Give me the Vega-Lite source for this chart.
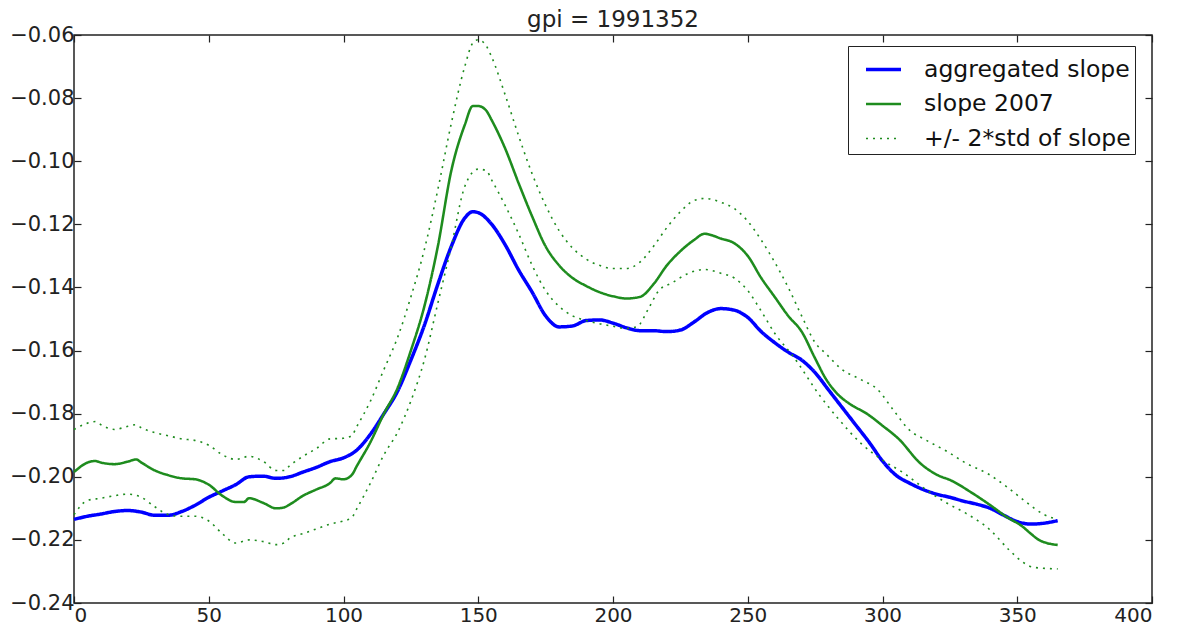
{
  "$schema": "https://vega.github.io/schema/vega-lite/v6.json",
  "width": 1078,
  "height": 568,
  "autosize": {"type": "none"},
  "padding": {"left": 74, "top": 35, "right": 26, "bottom": 24},
  "background": "white",
  "title": {"text": "gpi = 1991352", "fontSize": 23, "font": "DejaVu Sans", "fontWeight": "normal", "color": "#222222", "offset": -8},
  "config": {
    "view": {"stroke": "#222222", "strokeWidth": 1.5},
    "axis": {"labelFont": "DejaVu Sans", "labelFontSize": 21, "labelColor": "#222222", "tickColor": "#222222", "domain": false, "grid": false, "tickSize": -7, "tickWidth": 1.2, "title": null}
  },
  "data": {"values": [
    {"day":0,"slope":-0.2135,"series":"aggregated slope","line":"a"},{"day":5,"slope":-0.2125,"series":"aggregated slope","line":"a"},{"day":10,"slope":-0.2118,"series":"aggregated slope","line":"a"},{"day":15,"slope":-0.2110,"series":"aggregated slope","line":"a"},{"day":20,"slope":-0.2107,"series":"aggregated slope","line":"a"},{"day":25,"slope":-0.2112,"series":"aggregated slope","line":"a"},{"day":30,"slope":-0.2122,"series":"aggregated slope","line":"a"},{"day":35,"slope":-0.2122,"series":"aggregated slope","line":"a"},{"day":40,"slope":-0.2110,"series":"aggregated slope","line":"a"},{"day":45,"slope":-0.2090,"series":"aggregated slope","line":"a"},{"day":50,"slope":-0.2065,"series":"aggregated slope","line":"a"},{"day":55,"slope":-0.2045,"series":"aggregated slope","line":"a"},{"day":60,"slope":-0.2025,"series":"aggregated slope","line":"a"},{"day":65,"slope":-0.2000,"series":"aggregated slope","line":"a"},{"day":70,"slope":-0.1998,"series":"aggregated slope","line":"a"},{"day":75,"slope":-0.2005,"series":"aggregated slope","line":"a"},{"day":80,"slope":-0.2000,"series":"aggregated slope","line":"a"},{"day":85,"slope":-0.1985,"series":"aggregated slope","line":"a"},{"day":90,"slope":-0.1970,"series":"aggregated slope","line":"a"},{"day":95,"slope":-0.1952,"series":"aggregated slope","line":"a"},{"day":100,"slope":-0.1940,"series":"aggregated slope","line":"a"},{"day":105,"slope":-0.1915,"series":"aggregated slope","line":"a"},{"day":110,"slope":-0.1865,"series":"aggregated slope","line":"a"},{"day":115,"slope":-0.1800,"series":"aggregated slope","line":"a"},{"day":120,"slope":-0.1730,"series":"aggregated slope","line":"a"},{"day":125,"slope":-0.1630,"series":"aggregated slope","line":"a"},{"day":130,"slope":-0.1520,"series":"aggregated slope","line":"a"},{"day":135,"slope":-0.1390,"series":"aggregated slope","line":"a"},{"day":140,"slope":-0.1270,"series":"aggregated slope","line":"a"},{"day":145,"slope":-0.1180,"series":"aggregated slope","line":"a"},{"day":148,"slope":-0.1160,"series":"aggregated slope","line":"a"},{"day":150,"slope":-0.1163,"series":"aggregated slope","line":"a"},{"day":155,"slope":-0.1200,"series":"aggregated slope","line":"a"},{"day":160,"slope":-0.1265,"series":"aggregated slope","line":"a"},{"day":165,"slope":-0.1345,"series":"aggregated slope","line":"a"},{"day":170,"slope":-0.1415,"series":"aggregated slope","line":"a"},{"day":175,"slope":-0.1490,"series":"aggregated slope","line":"a"},{"day":180,"slope":-0.1525,"series":"aggregated slope","line":"a"},{"day":185,"slope":-0.1522,"series":"aggregated slope","line":"a"},{"day":190,"slope":-0.1505,"series":"aggregated slope","line":"a"},{"day":195,"slope":-0.1503,"series":"aggregated slope","line":"a"},{"day":200,"slope":-0.1513,"series":"aggregated slope","line":"a"},{"day":205,"slope":-0.1528,"series":"aggregated slope","line":"a"},{"day":210,"slope":-0.1537,"series":"aggregated slope","line":"a"},{"day":215,"slope":-0.1537,"series":"aggregated slope","line":"a"},{"day":220,"slope":-0.1540,"series":"aggregated slope","line":"a"},{"day":225,"slope":-0.1535,"series":"aggregated slope","line":"a"},{"day":230,"slope":-0.1510,"series":"aggregated slope","line":"a"},{"day":235,"slope":-0.1480,"series":"aggregated slope","line":"a"},{"day":240,"slope":-0.1467,"series":"aggregated slope","line":"a"},{"day":245,"slope":-0.1472,"series":"aggregated slope","line":"a"},{"day":250,"slope":-0.1495,"series":"aggregated slope","line":"a"},{"day":255,"slope":-0.1540,"series":"aggregated slope","line":"a"},{"day":260,"slope":-0.1575,"series":"aggregated slope","line":"a"},{"day":265,"slope":-0.1605,"series":"aggregated slope","line":"a"},{"day":270,"slope":-0.1630,"series":"aggregated slope","line":"a"},{"day":275,"slope":-0.1670,"series":"aggregated slope","line":"a"},{"day":280,"slope":-0.1725,"series":"aggregated slope","line":"a"},{"day":285,"slope":-0.1780,"series":"aggregated slope","line":"a"},{"day":290,"slope":-0.1835,"series":"aggregated slope","line":"a"},{"day":295,"slope":-0.1890,"series":"aggregated slope","line":"a"},{"day":300,"slope":-0.1950,"series":"aggregated slope","line":"a"},{"day":305,"slope":-0.1995,"series":"aggregated slope","line":"a"},{"day":310,"slope":-0.2020,"series":"aggregated slope","line":"a"},{"day":315,"slope":-0.2040,"series":"aggregated slope","line":"a"},{"day":320,"slope":-0.2055,"series":"aggregated slope","line":"a"},{"day":325,"slope":-0.2065,"series":"aggregated slope","line":"a"},{"day":330,"slope":-0.2077,"series":"aggregated slope","line":"a"},{"day":335,"slope":-0.2087,"series":"aggregated slope","line":"a"},{"day":340,"slope":-0.2100,"series":"aggregated slope","line":"a"},{"day":345,"slope":-0.2122,"series":"aggregated slope","line":"a"},{"day":350,"slope":-0.2142,"series":"aggregated slope","line":"a"},{"day":355,"slope":-0.2150,"series":"aggregated slope","line":"a"},{"day":360,"slope":-0.2147,"series":"aggregated slope","line":"a"},{"day":365,"slope":-0.2139,"series":"aggregated slope","line":"a"},

    {"day":0,"slope":-0.1985,"series":"slope 2007","line":"b"},{"day":5,"slope":-0.1955,"series":"slope 2007","line":"b"},{"day":8,"slope":-0.1950,"series":"slope 2007","line":"b"},{"day":10,"slope":-0.1955,"series":"slope 2007","line":"b"},{"day":15,"slope":-0.1960,"series":"slope 2007","line":"b"},{"day":20,"slope":-0.1952,"series":"slope 2007","line":"b"},{"day":23,"slope":-0.1945,"series":"slope 2007","line":"b"},{"day":25,"slope":-0.1955,"series":"slope 2007","line":"b"},{"day":30,"slope":-0.1980,"series":"slope 2007","line":"b"},{"day":35,"slope":-0.1995,"series":"slope 2007","line":"b"},{"day":40,"slope":-0.2005,"series":"slope 2007","line":"b"},{"day":45,"slope":-0.2008,"series":"slope 2007","line":"b"},{"day":50,"slope":-0.2025,"series":"slope 2007","line":"b"},{"day":55,"slope":-0.2060,"series":"slope 2007","line":"b"},{"day":60,"slope":-0.2080,"series":"slope 2007","line":"b"},{"day":63,"slope":-0.2080,"series":"slope 2007","line":"b"},{"day":65,"slope":-0.2068,"series":"slope 2007","line":"b"},{"day":70,"slope":-0.2082,"series":"slope 2007","line":"b"},{"day":75,"slope":-0.2100,"series":"slope 2007","line":"b"},{"day":78,"slope":-0.2097,"series":"slope 2007","line":"b"},{"day":80,"slope":-0.2088,"series":"slope 2007","line":"b"},{"day":85,"slope":-0.2060,"series":"slope 2007","line":"b"},{"day":90,"slope":-0.2040,"series":"slope 2007","line":"b"},{"day":95,"slope":-0.2020,"series":"slope 2007","line":"b"},{"day":97,"slope":-0.2005,"series":"slope 2007","line":"b"},{"day":100,"slope":-0.2008,"series":"slope 2007","line":"b"},{"day":103,"slope":-0.1995,"series":"slope 2007","line":"b"},{"day":105,"slope":-0.1965,"series":"slope 2007","line":"b"},{"day":110,"slope":-0.1890,"series":"slope 2007","line":"b"},{"day":115,"slope":-0.1800,"series":"slope 2007","line":"b"},{"day":120,"slope":-0.1720,"series":"slope 2007","line":"b"},{"day":125,"slope":-0.1600,"series":"slope 2007","line":"b"},{"day":130,"slope":-0.1460,"series":"slope 2007","line":"b"},{"day":135,"slope":-0.1270,"series":"slope 2007","line":"b"},{"day":140,"slope":-0.1030,"series":"slope 2007","line":"b"},{"day":145,"slope":-0.0885,"series":"slope 2007","line":"b"},{"day":148,"slope":-0.0825,"series":"slope 2007","line":"b"},{"day":150,"slope":-0.0825,"series":"slope 2007","line":"b"},{"day":153,"slope":-0.0840,"series":"slope 2007","line":"b"},{"day":155,"slope":-0.0870,"series":"slope 2007","line":"b"},{"day":160,"slope":-0.0960,"series":"slope 2007","line":"b"},{"day":165,"slope":-0.1070,"series":"slope 2007","line":"b"},{"day":170,"slope":-0.1175,"series":"slope 2007","line":"b"},{"day":175,"slope":-0.1270,"series":"slope 2007","line":"b"},{"day":180,"slope":-0.1330,"series":"slope 2007","line":"b"},{"day":185,"slope":-0.1370,"series":"slope 2007","line":"b"},{"day":190,"slope":-0.1395,"series":"slope 2007","line":"b"},{"day":195,"slope":-0.1415,"series":"slope 2007","line":"b"},{"day":200,"slope":-0.1428,"series":"slope 2007","line":"b"},{"day":205,"slope":-0.1435,"series":"slope 2007","line":"b"},{"day":210,"slope":-0.1430,"series":"slope 2007","line":"b"},{"day":215,"slope":-0.1390,"series":"slope 2007","line":"b"},{"day":220,"slope":-0.1330,"series":"slope 2007","line":"b"},{"day":225,"slope":-0.1285,"series":"slope 2007","line":"b"},{"day":230,"slope":-0.1250,"series":"slope 2007","line":"b"},{"day":234,"slope":-0.1230,"series":"slope 2007","line":"b"},{"day":240,"slope":-0.1245,"series":"slope 2007","line":"b"},{"day":245,"slope":-0.1260,"series":"slope 2007","line":"b"},{"day":250,"slope":-0.1300,"series":"slope 2007","line":"b"},{"day":255,"slope":-0.1370,"series":"slope 2007","line":"b"},{"day":260,"slope":-0.1430,"series":"slope 2007","line":"b"},{"day":265,"slope":-0.1490,"series":"slope 2007","line":"b"},{"day":270,"slope":-0.1540,"series":"slope 2007","line":"b"},{"day":275,"slope":-0.1625,"series":"slope 2007","line":"b"},{"day":279,"slope":-0.1690,"series":"slope 2007","line":"b"},{"day":283,"slope":-0.1735,"series":"slope 2007","line":"b"},{"day":288,"slope":-0.1770,"series":"slope 2007","line":"b"},{"day":294,"slope":-0.1799,"series":"slope 2007","line":"b"},{"day":300,"slope":-0.1838,"series":"slope 2007","line":"b"},{"day":306,"slope":-0.1880,"series":"slope 2007","line":"b"},{"day":314,"slope":-0.1957,"series":"slope 2007","line":"b"},{"day":321,"slope":-0.1997,"series":"slope 2007","line":"b"},{"day":325,"slope":-0.2010,"series":"slope 2007","line":"b"},{"day":333,"slope":-0.2050,"series":"slope 2007","line":"b"},{"day":340,"slope":-0.2090,"series":"slope 2007","line":"b"},{"day":346,"slope":-0.2127,"series":"slope 2007","line":"b"},{"day":352,"slope":-0.2158,"series":"slope 2007","line":"b"},{"day":355,"slope":-0.2180,"series":"slope 2007","line":"b"},{"day":358,"slope":-0.2200,"series":"slope 2007","line":"b"},{"day":361,"slope":-0.2210,"series":"slope 2007","line":"b"},{"day":365,"slope":-0.2216,"series":"slope 2007","line":"b"},

    {"day":0,"slope":-0.1850,"series":"+/- 2*std of slope","line":"u"},{"day":5,"slope":-0.1830,"series":"+/- 2*std of slope","line":"u"},{"day":8,"slope":-0.1825,"series":"+/- 2*std of slope","line":"u"},{"day":10,"slope":-0.1835,"series":"+/- 2*std of slope","line":"u"},{"day":15,"slope":-0.1850,"series":"+/- 2*std of slope","line":"u"},{"day":20,"slope":-0.1840,"series":"+/- 2*std of slope","line":"u"},{"day":23,"slope":-0.1835,"series":"+/- 2*std of slope","line":"u"},{"day":25,"slope":-0.1845,"series":"+/- 2*std of slope","line":"u"},{"day":30,"slope":-0.1860,"series":"+/- 2*std of slope","line":"u"},{"day":35,"slope":-0.1870,"series":"+/- 2*std of slope","line":"u"},{"day":40,"slope":-0.1880,"series":"+/- 2*std of slope","line":"u"},{"day":45,"slope":-0.1885,"series":"+/- 2*std of slope","line":"u"},{"day":50,"slope":-0.1900,"series":"+/- 2*std of slope","line":"u"},{"day":55,"slope":-0.1930,"series":"+/- 2*std of slope","line":"u"},{"day":60,"slope":-0.1945,"series":"+/- 2*std of slope","line":"u"},{"day":65,"slope":-0.1935,"series":"+/- 2*std of slope","line":"u"},{"day":70,"slope":-0.1950,"series":"+/- 2*std of slope","line":"u"},{"day":75,"slope":-0.1980,"series":"+/- 2*std of slope","line":"u"},{"day":78,"slope":-0.1980,"series":"+/- 2*std of slope","line":"u"},{"day":80,"slope":-0.1965,"series":"+/- 2*std of slope","line":"u"},{"day":85,"slope":-0.1935,"series":"+/- 2*std of slope","line":"u"},{"day":90,"slope":-0.1910,"series":"+/- 2*std of slope","line":"u"},{"day":95,"slope":-0.1880,"series":"+/- 2*std of slope","line":"u"},{"day":100,"slope":-0.1878,"series":"+/- 2*std of slope","line":"u"},{"day":103,"slope":-0.1870,"series":"+/- 2*std of slope","line":"u"},{"day":105,"slope":-0.1840,"series":"+/- 2*std of slope","line":"u"},{"day":110,"slope":-0.1760,"series":"+/- 2*std of slope","line":"u"},{"day":115,"slope":-0.1660,"series":"+/- 2*std of slope","line":"u"},{"day":120,"slope":-0.1560,"series":"+/- 2*std of slope","line":"u"},{"day":125,"slope":-0.1430,"series":"+/- 2*std of slope","line":"u"},{"day":130,"slope":-0.1280,"series":"+/- 2*std of slope","line":"u"},{"day":135,"slope":-0.1090,"series":"+/- 2*std of slope","line":"u"},{"day":140,"slope":-0.0880,"series":"+/- 2*std of slope","line":"u"},{"day":145,"slope":-0.0700,"series":"+/- 2*std of slope","line":"u"},{"day":148,"slope":-0.0625,"series":"+/- 2*std of slope","line":"u"},{"day":150,"slope":-0.0615,"series":"+/- 2*std of slope","line":"u"},{"day":153,"slope":-0.0635,"series":"+/- 2*std of slope","line":"u"},{"day":155,"slope":-0.0670,"series":"+/- 2*std of slope","line":"u"},{"day":160,"slope":-0.0790,"series":"+/- 2*std of slope","line":"u"},{"day":165,"slope":-0.0920,"series":"+/- 2*std of slope","line":"u"},{"day":170,"slope":-0.1040,"series":"+/- 2*std of slope","line":"u"},{"day":175,"slope":-0.1140,"series":"+/- 2*std of slope","line":"u"},{"day":180,"slope":-0.1220,"series":"+/- 2*std of slope","line":"u"},{"day":185,"slope":-0.1275,"series":"+/- 2*std of slope","line":"u"},{"day":190,"slope":-0.1310,"series":"+/- 2*std of slope","line":"u"},{"day":195,"slope":-0.1330,"series":"+/- 2*std of slope","line":"u"},{"day":200,"slope":-0.1340,"series":"+/- 2*std of slope","line":"u"},{"day":205,"slope":-0.1340,"series":"+/- 2*std of slope","line":"u"},{"day":210,"slope":-0.1320,"series":"+/- 2*std of slope","line":"u"},{"day":215,"slope":-0.1270,"series":"+/- 2*std of slope","line":"u"},{"day":220,"slope":-0.1210,"series":"+/- 2*std of slope","line":"u"},{"day":225,"slope":-0.1160,"series":"+/- 2*std of slope","line":"u"},{"day":230,"slope":-0.1125,"series":"+/- 2*std of slope","line":"u"},{"day":234,"slope":-0.1118,"series":"+/- 2*std of slope","line":"u"},{"day":240,"slope":-0.1130,"series":"+/- 2*std of slope","line":"u"},{"day":245,"slope":-0.1150,"series":"+/- 2*std of slope","line":"u"},{"day":250,"slope":-0.1190,"series":"+/- 2*std of slope","line":"u"},{"day":255,"slope":-0.1250,"series":"+/- 2*std of slope","line":"u"},{"day":260,"slope":-0.1320,"series":"+/- 2*std of slope","line":"u"},{"day":265,"slope":-0.1400,"series":"+/- 2*std of slope","line":"u"},{"day":270,"slope":-0.1490,"series":"+/- 2*std of slope","line":"u"},{"day":275,"slope":-0.1575,"series":"+/- 2*std of slope","line":"u"},{"day":279,"slope":-0.1610,"series":"+/- 2*std of slope","line":"u"},{"day":285,"slope":-0.1660,"series":"+/- 2*std of slope","line":"u"},{"day":292,"slope":-0.1692,"series":"+/- 2*std of slope","line":"u"},{"day":298,"slope":-0.1722,"series":"+/- 2*std of slope","line":"u"},{"day":304,"slope":-0.1788,"series":"+/- 2*std of slope","line":"u"},{"day":310,"slope":-0.1852,"series":"+/- 2*std of slope","line":"u"},{"day":316,"slope":-0.1883,"series":"+/- 2*std of slope","line":"u"},{"day":324,"slope":-0.1920,"series":"+/- 2*std of slope","line":"u"},{"day":331,"slope":-0.1957,"series":"+/- 2*std of slope","line":"u"},{"day":339,"slope":-0.1990,"series":"+/- 2*std of slope","line":"u"},{"day":346,"slope":-0.2031,"series":"+/- 2*std of slope","line":"u"},{"day":353,"slope":-0.2078,"series":"+/- 2*std of slope","line":"u"},{"day":360,"slope":-0.2120,"series":"+/- 2*std of slope","line":"u"},{"day":365,"slope":-0.2135,"series":"+/- 2*std of slope","line":"u"},

    {"day":0,"slope":-0.2120,"series":"+/- 2*std of slope","line":"l"},{"day":5,"slope":-0.2075,"series":"+/- 2*std of slope","line":"l"},{"day":10,"slope":-0.2068,"series":"+/- 2*std of slope","line":"l"},{"day":15,"slope":-0.2060,"series":"+/- 2*std of slope","line":"l"},{"day":20,"slope":-0.2055,"series":"+/- 2*std of slope","line":"l"},{"day":25,"slope":-0.2065,"series":"+/- 2*std of slope","line":"l"},{"day":30,"slope":-0.2095,"series":"+/- 2*std of slope","line":"l"},{"day":35,"slope":-0.2120,"series":"+/- 2*std of slope","line":"l"},{"day":40,"slope":-0.2125,"series":"+/- 2*std of slope","line":"l"},{"day":45,"slope":-0.2125,"series":"+/- 2*std of slope","line":"l"},{"day":50,"slope":-0.2140,"series":"+/- 2*std of slope","line":"l"},{"day":55,"slope":-0.2180,"series":"+/- 2*std of slope","line":"l"},{"day":60,"slope":-0.2210,"series":"+/- 2*std of slope","line":"l"},{"day":65,"slope":-0.2200,"series":"+/- 2*std of slope","line":"l"},{"day":70,"slope":-0.2205,"series":"+/- 2*std of slope","line":"l"},{"day":75,"slope":-0.2215,"series":"+/- 2*std of slope","line":"l"},{"day":78,"slope":-0.2210,"series":"+/- 2*std of slope","line":"l"},{"day":80,"slope":-0.2195,"series":"+/- 2*std of slope","line":"l"},{"day":85,"slope":-0.2180,"series":"+/- 2*std of slope","line":"l"},{"day":90,"slope":-0.2165,"series":"+/- 2*std of slope","line":"l"},{"day":95,"slope":-0.2150,"series":"+/- 2*std of slope","line":"l"},{"day":100,"slope":-0.2140,"series":"+/- 2*std of slope","line":"l"},{"day":103,"slope":-0.2130,"series":"+/- 2*std of slope","line":"l"},{"day":105,"slope":-0.2100,"series":"+/- 2*std of slope","line":"l"},{"day":110,"slope":-0.2020,"series":"+/- 2*std of slope","line":"l"},{"day":115,"slope":-0.1930,"series":"+/- 2*std of slope","line":"l"},{"day":120,"slope":-0.1860,"series":"+/- 2*std of slope","line":"l"},{"day":125,"slope":-0.1760,"series":"+/- 2*std of slope","line":"l"},{"day":130,"slope":-0.1630,"series":"+/- 2*std of slope","line":"l"},{"day":135,"slope":-0.1450,"series":"+/- 2*std of slope","line":"l"},{"day":140,"slope":-0.1270,"series":"+/- 2*std of slope","line":"l"},{"day":145,"slope":-0.1080,"series":"+/- 2*std of slope","line":"l"},{"day":150,"slope":-0.1025,"series":"+/- 2*std of slope","line":"l"},{"day":153,"slope":-0.1030,"series":"+/- 2*std of slope","line":"l"},{"day":155,"slope":-0.1060,"series":"+/- 2*std of slope","line":"l"},{"day":160,"slope":-0.1140,"series":"+/- 2*std of slope","line":"l"},{"day":165,"slope":-0.1230,"series":"+/- 2*std of slope","line":"l"},{"day":170,"slope":-0.1330,"series":"+/- 2*std of slope","line":"l"},{"day":175,"slope":-0.1410,"series":"+/- 2*std of slope","line":"l"},{"day":180,"slope":-0.1460,"series":"+/- 2*std of slope","line":"l"},{"day":185,"slope":-0.1490,"series":"+/- 2*std of slope","line":"l"},{"day":190,"slope":-0.1505,"series":"+/- 2*std of slope","line":"l"},{"day":195,"slope":-0.1515,"series":"+/- 2*std of slope","line":"l"},{"day":200,"slope":-0.1523,"series":"+/- 2*std of slope","line":"l"},{"day":205,"slope":-0.1530,"series":"+/- 2*std of slope","line":"l"},{"day":209,"slope":-0.1524,"series":"+/- 2*std of slope","line":"l"},{"day":213,"slope":-0.1470,"series":"+/- 2*std of slope","line":"l"},{"day":217,"slope":-0.1410,"series":"+/- 2*std of slope","line":"l"},{"day":222,"slope":-0.1385,"series":"+/- 2*std of slope","line":"l"},{"day":228,"slope":-0.1355,"series":"+/- 2*std of slope","line":"l"},{"day":234,"slope":-0.1343,"series":"+/- 2*std of slope","line":"l"},{"day":240,"slope":-0.1355,"series":"+/- 2*std of slope","line":"l"},{"day":245,"slope":-0.1370,"series":"+/- 2*std of slope","line":"l"},{"day":250,"slope":-0.1410,"series":"+/- 2*std of slope","line":"l"},{"day":255,"slope":-0.1475,"series":"+/- 2*std of slope","line":"l"},{"day":260,"slope":-0.1545,"series":"+/- 2*std of slope","line":"l"},{"day":267,"slope":-0.1620,"series":"+/- 2*std of slope","line":"l"},{"day":277,"slope":-0.1746,"series":"+/- 2*std of slope","line":"l"},{"day":283,"slope":-0.1810,"series":"+/- 2*std of slope","line":"l"},{"day":292,"slope":-0.1894,"series":"+/- 2*std of slope","line":"l"},{"day":300,"slope":-0.1947,"series":"+/- 2*std of slope","line":"l"},{"day":308,"slope":-0.1989,"series":"+/- 2*std of slope","line":"l"},{"day":316,"slope":-0.2040,"series":"+/- 2*std of slope","line":"l"},{"day":324,"slope":-0.2084,"series":"+/- 2*std of slope","line":"l"},{"day":331,"slope":-0.2116,"series":"+/- 2*std of slope","line":"l"},{"day":340,"slope":-0.2169,"series":"+/- 2*std of slope","line":"l"},{"day":347,"slope":-0.2232,"series":"+/- 2*std of slope","line":"l"},{"day":352,"slope":-0.2270,"series":"+/- 2*std of slope","line":"l"},{"day":356,"slope":-0.2287,"series":"+/- 2*std of slope","line":"l"},{"day":365,"slope":-0.2292,"series":"+/- 2*std of slope","line":"l"}
  ]},
  "layer": [
    {
      "mark": {"type": "line", "interpolate": "monotone", "strokeCap": "butt"},
      "encoding": {
        "x": {"field": "day", "type": "quantitative", "scale": {"domain": [0, 400], "nice": false}, "axis": {"values": [0, 50, 100, 150, 200, 250, 300, 350, 400], "labelPadding": 9, "labelFontSize": 20}},
        "y": {"field": "slope", "type": "quantitative", "scale": {"domain": [-0.24, -0.06], "nice": false, "zero": false}, "axis": {"values": [-0.24, -0.22, -0.2, -0.18, -0.16, -0.14, -0.12, -0.1, -0.08, -0.06], "format": ".2f", "labelPadding": 7}},
        "detail": {"field": "line"},
        "color": {"field": "series", "type": "nominal", "scale": {"domain": ["aggregated slope", "slope 2007", "+/- 2*std of slope"], "range": ["#0000ff", "#1e8c1e", "#1e8c1e"]},
          "legend": {"title": null, "orient": "none", "legendX": 774, "legendY": 11, "symbolType": "stroke", "symbolSize": 1225, "symbolOffset": 12, "labelFontSize": 23.5, "labelFont": "DejaVu Sans", "labelColor": "#111111", "labelOffset": 21, "rowPadding": 4, "padding": 4, "strokeColor": "#222222", "fillColor": "white", "labelLimit": 400}},
        "strokeDash": {"field": "series", "type": "nominal", "scale": {"domain": ["aggregated slope", "slope 2007", "+/- 2*std of slope"], "range": [[1, 0], [1, 0], [2, 5]]}, "legend": {"title": null}},
        "strokeWidth": {"field": "series", "type": "nominal", "scale": {"domain": ["aggregated slope", "slope 2007", "+/- 2*std of slope"], "range": [3.5, 1.6, 2]}, "legend": {"title": null}}
      }
    },
    {
      "mark": {"type": "line", "opacity": 0},
      "encoding": {
        "x": {"field": "day", "type": "quantitative", "axis": {"orient": "top", "labels": false, "values": [0, 50, 100, 150, 200, 250, 300, 350, 400]}},
        "y": {"field": "slope", "type": "quantitative", "axis": {"orient": "right", "labels": false, "values": [-0.24, -0.22, -0.2, -0.18, -0.16, -0.14, -0.12, -0.1, -0.08, -0.06]}},
        "detail": {"field": "line"}
      }
    }
  ],
  "resolve": {"axis": {"x": "independent", "y": "independent"}}
}
